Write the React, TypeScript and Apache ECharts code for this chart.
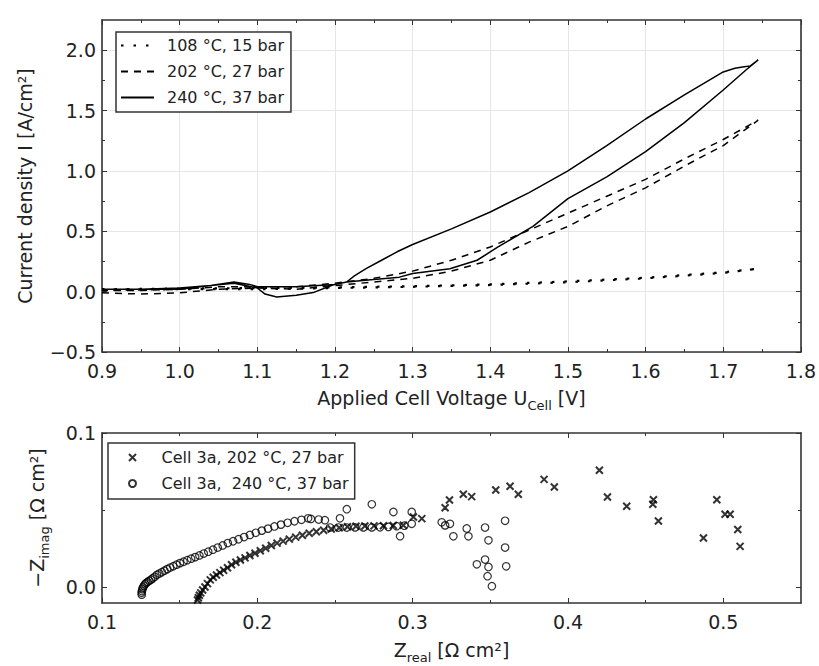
import React, { useEffect, useRef } from "react";
import * as echarts from "echarts";

const FONT = '"DejaVu Sans", "Noto Sans", sans-serif';
const INK = "#222";
const FRAME = "#333";

// ---------- Top panel: cyclic voltammograms (U [V], I [A/cm2]) ----------
const cvLabels = ["108 °C, 15 bar", "202 °C, 27 bar", "240 °C, 37 bar"];

const cv108: [number, number][] = [
  [0.9, 0.02], [1.0, 0.025], [1.1, 0.03], [1.2, 0.035], [1.3, 0.045], [1.4, 0.06],
  [1.5, 0.085], [1.6, 0.115], [1.7, 0.16], [1.745, 0.19],
  [1.7, 0.155], [1.6, 0.11], [1.5, 0.078], [1.4, 0.055], [1.3, 0.04], [1.2, 0.03],
  [1.1, 0.02], [1.0, 0.02], [0.9, 0.015],
];

const cv202: [number, number][] = [
  [0.9, -0.01], [0.95, -0.02], [1.0, -0.01], [1.05, 0.02], [1.1, 0.03], [1.15, 0.02],
  [1.2, 0.05], [1.25, 0.08], [1.3, 0.11], [1.35, 0.17], [1.4, 0.26], [1.45, 0.41],
  [1.5, 0.54], [1.55, 0.71], [1.6, 0.86], [1.65, 1.04], [1.7, 1.21], [1.745, 1.42],
  [1.7, 1.26], [1.65, 1.1], [1.6, 0.93], [1.55, 0.79], [1.5, 0.65], [1.45, 0.51],
  [1.4, 0.37], [1.35, 0.26], [1.3, 0.17], [1.25, 0.11], [1.2, 0.07], [1.15, 0.04],
  [1.1, 0.04], [1.05, 0.04], [1.0, 0.02], [0.95, 0.01], [0.9, 0.01],
];

const cv240: [number, number][] = [
  [0.9, 0.02], [0.95, 0.02], [1.0, 0.03], [1.04, 0.05], [1.07, 0.08], [1.09, 0.06],
  [1.1, 0.04], [1.15, 0.04], [1.2, 0.06], [1.215, 0.08], [1.225, 0.13], [1.24, 0.19],
  [1.26, 0.26], [1.28, 0.33], [1.3, 0.39], [1.35, 0.52], [1.4, 0.66], [1.45, 0.82],
  [1.5, 1.0], [1.55, 1.21], [1.6, 1.43], [1.65, 1.63], [1.7, 1.82], [1.715, 1.85],
  [1.725, 1.86], [1.735, 1.87], [1.745, 1.92],
  [1.73, 1.84], [1.7, 1.67], [1.65, 1.4], [1.6, 1.16], [1.55, 0.95], [1.5, 0.77],
  [1.455, 0.54], [1.41, 0.37], [1.383, 0.26], [1.348, 0.19], [1.3, 0.15], [1.283, 0.12],
  [1.25, 0.1], [1.215, 0.08], [1.197, 0.055], [1.172, -0.008], [1.15, -0.03],
  [1.125, -0.044], [1.11, -0.02], [1.1, 0.03], [1.07, 0.07], [1.04, 0.05], [1.0, 0.02],
  [0.95, 0.02], [0.9, 0.02],
];

const voltMajor = [0.9, 1.0, 1.1, 1.2, 1.3, 1.4, 1.5, 1.6, 1.7, 1.8];
const voltMinor = [0.95, 1.05, 1.15, 1.25, 1.35, 1.45, 1.55, 1.65, 1.75];
const currMajor = [-0.5, 0, 0.5, 1.0, 1.5, 2.0];
const currMinor = [-0.25, 0.25, 0.75, 1.25, 1.75];

// ---------- Bottom panel: impedance spectra (Zreal, -Zimag) [Ohm cm2] ----------
const eisLabels = ["Cell 3a, 202 °C, 27 bar", "Cell 3a,  240 °C, 37 bar"];

const eis202: [number, number][] = [
  [0.1615, -0.0085], [0.162, -0.007], [0.1627, -0.0054], [0.1636, -0.0038], [0.1648, -0.002],
  [0.1663, 0.0], [0.1679, 0.0022], [0.1697, 0.0046], [0.1716, 0.0063], [0.1737, 0.0078],
  [0.1759, 0.0093], [0.1783, 0.0109], [0.1808, 0.0125], [0.1834, 0.0144], [0.1862, 0.0161],
  [0.1891, 0.0175], [0.1921, 0.0189], [0.1952, 0.0204], [0.1985, 0.0219], [0.2019, 0.0235],
  [0.2054, 0.0252], [0.209, 0.0269], [0.2127, 0.0285], [0.2166, 0.0298], [0.2206, 0.0311],
  [0.2247, 0.0324], [0.229, 0.0336], [0.2334, 0.0349], [0.238, 0.0359], [0.2427, 0.0368],
  [0.2476, 0.0377], [0.2527, 0.0385], [0.258, 0.0391], [0.2635, 0.0394], [0.2692, 0.0396],
  [0.2751, 0.0397], [0.2812, 0.0398], [0.2875, 0.0399], [0.294, 0.0401], [0.3005, 0.0455],
  [0.3059, 0.0444], [0.3209, 0.0515], [0.3237, 0.0565], [0.3326, 0.0602], [0.338, 0.0587],
  [0.3535, 0.063], [0.3627, 0.0654], [0.368, 0.0602], [0.3846, 0.0699], [0.3912, 0.0649],
  [0.4202, 0.0758], [0.4254, 0.0584], [0.4378, 0.0524], [0.455, 0.0567], [0.4546, 0.0537],
  [0.4582, 0.0429], [0.4872, 0.0318], [0.4958, 0.0567], [0.5011, 0.0472], [0.5044, 0.0472],
  [0.5093, 0.0373], [0.5108, 0.0264],
];

const eis240: [number, number][] = [
  [0.1256, -0.005], [0.1255, -0.0038], [0.1257, -0.0026], [0.126, -0.0014], [0.1264, -0.0003],
  [0.127, 0.0008], [0.1277, 0.0018], [0.1285, 0.0026], [0.1294, 0.0033], [0.1304, 0.004],
  [0.1315, 0.0047], [0.1327, 0.0056], [0.134, 0.0066], [0.1354, 0.0079], [0.1369, 0.0087],
  [0.1385, 0.0096], [0.1402, 0.0106], [0.142, 0.0116], [0.1439, 0.0126], [0.1459, 0.0135],
  [0.148, 0.0145], [0.1502, 0.0155], [0.1525, 0.0164], [0.1549, 0.0174], [0.1574, 0.0184],
  [0.16, 0.0194], [0.1627, 0.0205], [0.1655, 0.0217], [0.1684, 0.0229], [0.1714, 0.0242],
  [0.1745, 0.0256], [0.1777, 0.027], [0.181, 0.0285], [0.1844, 0.0297], [0.1879, 0.031],
  [0.1915, 0.0324], [0.1952, 0.0338], [0.199, 0.0352], [0.2029, 0.0366], [0.2069, 0.0379],
  [0.211, 0.0393], [0.2152, 0.0405], [0.2195, 0.0417], [0.2239, 0.0427], [0.2284, 0.0436],
  [0.2327, 0.0446], [0.2345, 0.0442], [0.2395, 0.0438], [0.2435, 0.0434], [0.2532, 0.0446],
  [0.2576, 0.0505], [0.2737, 0.0537], [0.2876, 0.0487], [0.2994, 0.0487], [0.2919, 0.033],
  [0.2994, 0.041], [0.2468, 0.0386], [0.2522, 0.0386], [0.2576, 0.0386], [0.2629, 0.0387],
  [0.2683, 0.0387], [0.2737, 0.0387], [0.279, 0.0388], [0.2844, 0.039], [0.2897, 0.0395],
  [0.2946, 0.0398], [0.3187, 0.042], [0.3209, 0.04], [0.324, 0.041], [0.3262, 0.0329],
  [0.3348, 0.038], [0.3359, 0.0329], [0.3466, 0.0386], [0.3488, 0.0303], [0.3595, 0.043],
  [0.3595, 0.0256], [0.3602, 0.0134], [0.3413, 0.0147], [0.3466, 0.0178], [0.3488, 0.013],
  [0.3482, 0.007], [0.351, 0.0005],
];

const reMajor = [0.1, 0.2, 0.3, 0.4, 0.5];
const reMinor = [0.15, 0.25, 0.35, 0.45];
const imMajor = [0, 0.1];
const imMinor = [0.05];

const fmt1 = (v: number) => (v < 0 ? "\u2212" : "") + Math.abs(v).toFixed(1);

const nameStyle = {
  fontFamily: FONT,
  fontSize: 19,
  color: INK,
  lineHeight: 28,
  rich: {
    sub: { fontFamily: FONT, fontSize: 13, lineHeight: 13, color: INK, verticalAlign: "bottom" },
  },
};

function axisGroup(
  dim: "x" | "y",
  gridIndex: number,
  min: number,
  max: number,
  majors: number[],
  minors: number[],
  grid: boolean,
  name: string,
  nameGap: number,
  labelMargin: number
) {
  const sides = dim === "x" ? ["bottom", "top"] : ["left", "right"];
  const out: any[] = [];
  sides.forEach((pos, si) => {
    [majors, minors].forEach((vals, mi) => {
      const isLabel = si === 0 && mi === 0;
      out.push({
        type: "value",
        gridIndex,
        position: pos,
        min,
        max,
        name: isLabel ? name : "",
        nameLocation: "middle",
        nameGap,
        nameTextStyle: nameStyle,
        axisLine: { show: mi === 0, onZero: false, lineStyle: { color: FRAME, width: 1.6 } },
        axisTick: {
          show: true,
          inside: true,
          length: mi === 0 ? 5 : 3,
          customValues: vals,
          lineStyle: { color: FRAME, width: 1 },
        },
        axisLabel: isLabel
          ? {
              show: true,
              customValues: majors,
              formatter: fmt1,
              margin: labelMargin,
              fontFamily: FONT,
              fontSize: 19,
              color: INK,
            }
          : { show: false },
        splitLine: { show: isLabel && grid, lineStyle: { color: "#e6e6e6", width: 1 } },
      });
    });
  });
  return out;
}

const xAxes = [
  ...axisGroup("x", 0, 0.9, 1.8, voltMajor, voltMinor, true, "Applied Cell Voltage U{sub|Cell} [V]", 32, 9),
  ...axisGroup("x", 1, 0.1, 0.55, reMajor, reMinor, false, "Z{sub|real} [Ω cm²]", 33, 9),
];
const yAxes = [
  ...axisGroup("y", 0, -0.5, 2.25, currMajor, currMinor, true, "Current density I [A/cm²]", 62, 6),
  ...axisGroup("y", 1, -0.0104, 0.1, imMajor, imMinor, false, "\u2212Z{sub|imag} [Ω cm²]", 51, 6),
];

const lineStyles: any[] = [
  { type: [2.5, 10], width: 2.2 },
  { type: [7, 6], width: 1.5 },
  { type: "solid", width: 1.5 },
];

const option: any = {
  animation: false,
  backgroundColor: "#fff",
  textStyle: { fontFamily: FONT },
  grid: [
    { left: 102, top: 20, width: 699, height: 332 },
    { left: 102, top: 433, width: 699, height: 170 },
  ],
  xAxis: xAxes,
  yAxis: yAxes,
  legend: [
    {
      data: cvLabels,
      orient: "vertical",
      left: 116,
      top: 32,
      padding: [4, 7, 5, 4],
      itemWidth: 33,
      itemHeight: 14,
      itemGap: 7,
      itemStyle: { opacity: 0 },
      backgroundColor: "#fff",
      borderColor: FRAME,
      borderWidth: 1.5,
      borderRadius: 0,
      textStyle: { fontFamily: FONT, fontSize: 16, color: INK, lineHeight: 19, padding: [0, 0, 0, 8] },
      selectedMode: false,
    },
    {
      data: eisLabels,
      orient: "vertical",
      left: 108,
      top: 443,
      padding: [5, 6, 6, 20],
      itemWidth: 36,
      itemHeight: 7,
      itemGap: 7,
      backgroundColor: "#fff",
      borderColor: FRAME,
      borderWidth: 1.5,
      borderRadius: 0,
      textStyle: { fontFamily: FONT, fontSize: 16, color: INK, lineHeight: 19, padding: [0, 0, 0, 6] },
      selectedMode: false,
    },
  ],
  series: [
    ...[cv108, cv202, cv240].map((d, i) => ({
      name: cvLabels[i],
      type: "line",
      xAxisIndex: 0,
      yAxisIndex: 0,
      data: d,
      symbol: "none",
      smooth: false,
      lineStyle: { color: "#000", ...lineStyles[i] },
      itemStyle: { color: "#000" },
      z: 3,
    })),
    {
      name: eisLabels[0],
      type: "scatter",
      xAxisIndex: 4,
      yAxisIndex: 4,
      data: eis202,
      symbol: "path://M0,0L10,10M10,0L0,10",
      symbolSize: 7,
      itemStyle: { color: "transparent", borderColor: "#000", borderWidth: 2 },
      z: 3,
    },
    {
      name: eisLabels[1],
      type: "scatter",
      xAxisIndex: 4,
      yAxisIndex: 4,
      data: eis240,
      symbol: "circle",
      symbolSize: 7.5,
      itemStyle: { color: "transparent", borderColor: "#000", borderWidth: 1.2 },
      z: 3,
    },
  ],
};

export default function App() {
  const ref = useRef<HTMLDivElement>(null);
  useEffect(() => {
    const chart = echarts.init(ref.current!, null, { renderer: "svg" });
    chart.setOption(option);
    return () => chart.dispose();
  }, []);
  return (
    <div
      ref={ref}
      style={{ position: "fixed", left: 0, top: 0, width: 819, height: 666, background: "#fff" }}
    />
  );
}
